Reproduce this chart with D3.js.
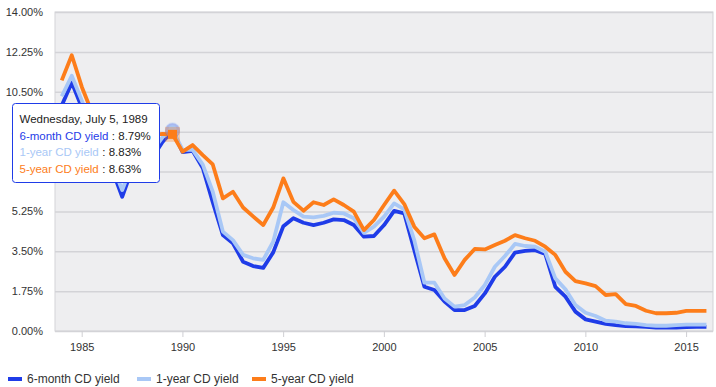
<!DOCTYPE html>
<html>
<head>
<meta charset="utf-8">
<script src="https://cdn.jsdelivr.net/npm/d3@7"></script>
<style>
  body { margin: 0; background: #fff; }
  svg { display: block; font-family: "Liberation Sans", Arial, sans-serif; }
  .grid line { stroke: #d3d3d7; stroke-width: 1.5; }
  .grid .domain { display: none; }
  .ylab text { fill: #333; font-size: 11px; }
  .xaxis text { fill: #333; font-size: 11px; }
  .xaxis line, .xaxis .domain { stroke: #cfcfd3; }
</style>
</head>
<body>
<svg id="chart" width="716" height="387"></svg>
<script>
// semi-annual readings, Jan 1984 .. Jan 2016
const firstYear = 1984;
const sixMonth = [9.9, 10.9, 9.8, 8.5, 7.7, 7.1, 5.89, 7.1, 7.3, 7.6, 8.3, 8.79, 7.85, 7.91, 7.15, 5.65,
  4.21, 3.85, 3.04, 2.85, 2.77, 3.45, 4.6, 4.95, 4.75, 4.65, 4.75, 4.9, 4.87, 4.65, 4.14, 4.17, 4.65,
  5.27, 5.16, 3.55, 1.94, 1.8, 1.29, 0.92, 0.92, 1.1, 1.65, 2.38, 2.82, 3.44, 3.52, 3.55, 3.38, 1.94,
  1.51, 0.85, 0.51, 0.41, 0.31, 0.26, 0.22, 0.2, 0.18, 0.15, 0.15, 0.15, 0.17, 0.18, 0.18];
const oneYear = [10.3, 11.2, 10.1, 8.9, 8.0, 7.3, 6.19, 7.3, 7.6, 7.9, 8.5, 8.83, 7.95, 7.95, 7.3, 6.11,
  4.36, 3.99, 3.34, 3.19, 3.12, 3.92, 5.65, 5.31, 5.02, 4.99, 5.05, 5.19, 5.16, 4.95, 4.31, 4.58, 5.02,
  5.6, 5.34, 3.99, 2.12, 2.12, 1.43, 1.07, 1.14, 1.47, 2.02, 2.82, 3.29, 3.82, 3.73, 3.7, 3.48, 2.31,
  1.83, 1.14, 0.8, 0.66, 0.45, 0.41, 0.34, 0.31, 0.26, 0.23, 0.23, 0.26, 0.28, 0.28, 0.28];
const fiveYear = [11.0, 12.1, 10.7, 9.6, 8.7, 7.8, 7.2, 7.9, 8.2, 8.6, 8.65, 8.63, 7.87, 8.16, 7.72, 7.31,
  5.82, 6.11, 5.42, 5.03, 4.65, 5.42, 6.7, 5.67, 5.28, 5.65, 5.53, 5.78, 5.53, 5.24, 4.43, 4.87, 5.53,
  6.16, 5.57, 4.58, 4.07, 4.24, 3.19, 2.46, 3.12, 3.6, 3.58, 3.77, 3.96, 4.21, 4.07, 3.96, 3.7, 3.34,
  2.6, 2.19, 2.09, 1.97, 1.58, 1.62, 1.18, 1.1, 0.89, 0.78, 0.78, 0.8, 0.88, 0.88, 0.88];
const seriesNames = ["6-month CD yield", "1-year CD yield", "5-year CD yield"];
const yTicks = [0, 1.75, 3.5, 5.25, 7, 8.75, 10.5, 12.25, 14];
const xTickYears = [1985, 1990, 1995, 2000, 2005, 2010, 2015];
const hoverIndex = 11; // July 1989

const colors = ["#1f3ce8", "#a9c8f6", "#fd7d1a"];
const width = 716, height = 387;
const margin = { top: 12, right: 3, bottom: 56, left: 55 };

const dates = sixMonth.map((d, i) => new Date(firstYear + Math.floor(i / 2), (i % 2) * 6, 5));
const series = [sixMonth, oneYear, fiveYear].map((vals, k) => ({
  name: seriesNames[k],
  color: colors[k],
  values: vals.map((v, i) => ({ date: dates[i], value: v }))
}));

const svg = d3.select("#chart");

const x = d3.scaleTime()
  .domain([new Date(1983, 8, 5), new Date(2016, 4, 3)])
  .range([margin.left, width - margin.right]);

const y = d3.scaleLinear()
  .domain([0, 14])
  .range([height - margin.bottom, margin.top]);

// plot background
svg.append("rect")
  .attr("x", margin.left)
  .attr("y", margin.top)
  .attr("width", width - margin.left - margin.right)
  .attr("height", height - margin.top - margin.bottom)
  .attr("fill", "#eeeef0")
  .attr("stroke", "#d3d3d7");

// gridlines
svg.append("g")
  .attr("class", "grid")
  .attr("transform", `translate(${margin.left},0)`)
  .call(d3.axisLeft(y).tickValues(yTicks).tickSize(-(width - margin.left - margin.right)).tickFormat(""));

// y labels (8.75% and 7.00% end up under the tooltip, as in the original)
svg.append("g")
  .attr("class", "ylab")
  .attr("transform", `translate(${margin.left},0)`)
  .call(d3.axisLeft(y).tickValues(yTicks).tickSize(0).tickPadding(12).tickFormat(d => d3.format(".2f")(d) + "%"))
  .call(g => g.select(".domain").remove());

// x axis
svg.append("g")
  .attr("class", "xaxis")
  .attr("transform", `translate(0,${height - margin.bottom})`)
  .call(d3.axisBottom(x)
    .tickValues(xTickYears.map(yr => new Date(yr, 0, 1)))
    .tickFormat(d3.timeFormat("%Y"))
    .tickSize(6)
    .tickPadding(6))
  .call(g => g.select(".domain").remove());

const line = d3.line()
  .x(d => x(d.date))
  .y(d => y(d.value));

svg.append("g")
  .selectAll("path")
  .data(series)
  .join("path")
  .attr("fill", "none")
  .attr("stroke", d => d.color)
  .attr("stroke-width", 3.8)
  .attr("stroke-linejoin", "round")
  .attr("d", d => line(d.values));

// hover markers
const hx = x(dates[hoverIndex]);
const markers = svg.append("g");
series.forEach((s, k) => {
  const hy = y(s.values[hoverIndex].value);
  if (k < 2) {
    markers.append("circle").attr("cx", hx).attr("cy", hy).attr("r", 7.5)
      .attr("fill", s.color).attr("opacity", 0.35);
    markers.append("circle").attr("cx", hx).attr("cy", hy).attr("r", 4.5)
      .attr("fill", s.color);
  } else {
    markers.append("rect").attr("x", hx - 7.5).attr("y", hy - 7.5).attr("width", 15).attr("height", 15)
      .attr("fill", s.color).attr("opacity", 0.3);
    markers.append("rect").attr("x", hx - 4.5).attr("y", hy - 4.5).attr("width", 9).attr("height", 9)
      .attr("fill", s.color);
  }
});

// tooltip
const tip = svg.append("g").attr("transform", "translate(12.5,103.5)");
tip.append("rect")
  .attr("width", 147)
  .attr("height", 79)
  .attr("rx", 3)
  .attr("fill", "#fff")
  .attr("stroke", colors[0])
  .attr("stroke-width", 1);
tip.append("text")
  .attr("x", 7).attr("y", 19)
  .attr("font-size", 11.5)
  .attr("fill", "#222")
  .text(d3.timeFormat("%A, %B %-d, %Y")(dates[hoverIndex]));
series.forEach((s, k) => {
  const rowY = 36 + k * 16.5;
  const nameText = tip.append("text")
    .attr("x", 7).attr("y", rowY)
    .attr("font-size", 11.5)
    .attr("fill", s.color)
    .text(s.name);
  const w = nameText.node().getComputedTextLength();
  tip.append("text")
    .attr("x", 7 + w + 3.5).attr("y", rowY)
    .attr("font-size", 11.5)
    .attr("fill", "#222")
    .text(": " + d3.format(".2f")(s.values[hoverIndex].value) + "%");
});

// legend
const legendX = [8, 137, 252];
const legend = svg.append("g")
  .selectAll("g")
  .data(series)
  .join("g")
  .attr("transform", (d, i) => `translate(${legendX[i]},379)`);
legend.append("line")
  .attr("x1", 0).attr("x2", 14)
  .attr("stroke", d => d.color)
  .attr("stroke-width", 4);
legend.append("text")
  .attr("x", 19)
  .attr("dy", "0.35em")
  .attr("font-size", 12)
  .attr("fill", "#333")
  .text(d => d.name);
</script>
</body>
</html>
